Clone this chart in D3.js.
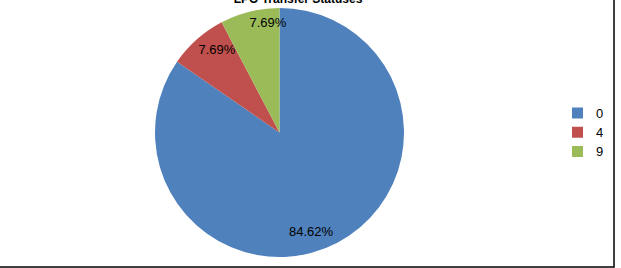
<!DOCTYPE html>
<html>
<head>
<meta charset="utf-8">
<script src="https://cdn.jsdelivr.net/npm/d3@7"></script>
<style>
  html, body { margin: 0; padding: 0; background: #fff; }
  svg { display: block; }
  text { font-family: "Liberation Sans", Arial, sans-serif; }
</style>
</head>
<body>
<svg id="chart" width="621" height="268"></svg>
<script>
// ---- data ----
const title = "LPO Transfer Statuses";
const categories = ["0", "4", "9"];
const values = [11, 1, 1];
const colors = ["#4F81BD", "#C0504D", "#9BBB59"];

// ---- layout ----
const W = 621, H = 268;
const cx = 279.5, cy = 132.5, R = 124.5;
const labelR = 0.85 * R;
// small per-label nudges emulating Excel "best fit" placement
const labelNudge = [[-17.7, 4.8], [7.6, -4.3], [13.7, -7.3]];

const svg = d3.select("#chart");

// frame (only right and bottom edges are visible in the crop)
svg.append("rect")
  .attr("x", -5).attr("y", -5)
  .attr("width", 614 + 5).attr("height", 267 + 5)
  .attr("fill", "#fff")
  .attr("stroke", "#000")
  .attr("stroke-width", 1.5);

// title (mostly cut off at top)
svg.append("text")
  .attr("x", 298).attr("y", 2.5)
  .attr("text-anchor", "middle")
  .attr("font-size", "12px")
  .attr("font-weight", "bold")
  .attr("fill", "#000")
  .text(title);

const data = categories.map((c, i) => ({ cat: c, value: values[i], color: colors[i] }));
const total = d3.sum(values);

const pie = d3.pie().sort(null).value(d => d.value);
const arcs = pie(data);
const arc = d3.arc().innerRadius(0).outerRadius(R);
const labelArc = d3.arc().innerRadius(labelR).outerRadius(labelR);

const g = svg.append("g").attr("transform", `translate(${cx},${cy})`);

g.selectAll("path.slice")
  .data(arcs)
  .join("path")
  .attr("class", "slice")
  .attr("d", arc)
  .attr("fill", d => d.data.color);

g.selectAll("text.lbl")
  .data(arcs)
  .join("text")
  .attr("class", "lbl")
  .attr("transform", (d, i) => {
    const [x, y] = labelArc.centroid(d);
    return `translate(${x + labelNudge[i][0]},${y + labelNudge[i][1]})`;
  })
  .attr("text-anchor", "middle")
  .attr("dy", "0.35em")
  .attr("font-size", "13px")
  .attr("fill", "#000")
  .text(d => (d.data.value / total * 100).toFixed(2) + "%");

// legend
const legendY = d3.scalePoint().domain(categories).range([113, 151.5]);
const leg = svg.append("g");
const items = leg.selectAll("g.item")
  .data(data)
  .join("g")
  .attr("class", "item")
  .attr("transform", d => `translate(572,${legendY(d.cat)})`);
items.append("rect")
  .attr("x", 0).attr("y", -5.5)
  .attr("width", 11).attr("height", 11)
  .attr("fill", d => d.color);
items.append("text")
  .attr("x", 24).attr("y", 0)
  .attr("dy", "0.35em")
  .attr("font-size", "13px")
  .attr("fill", "#000")
  .text(d => d.cat);
</script>
</body>
</html>
